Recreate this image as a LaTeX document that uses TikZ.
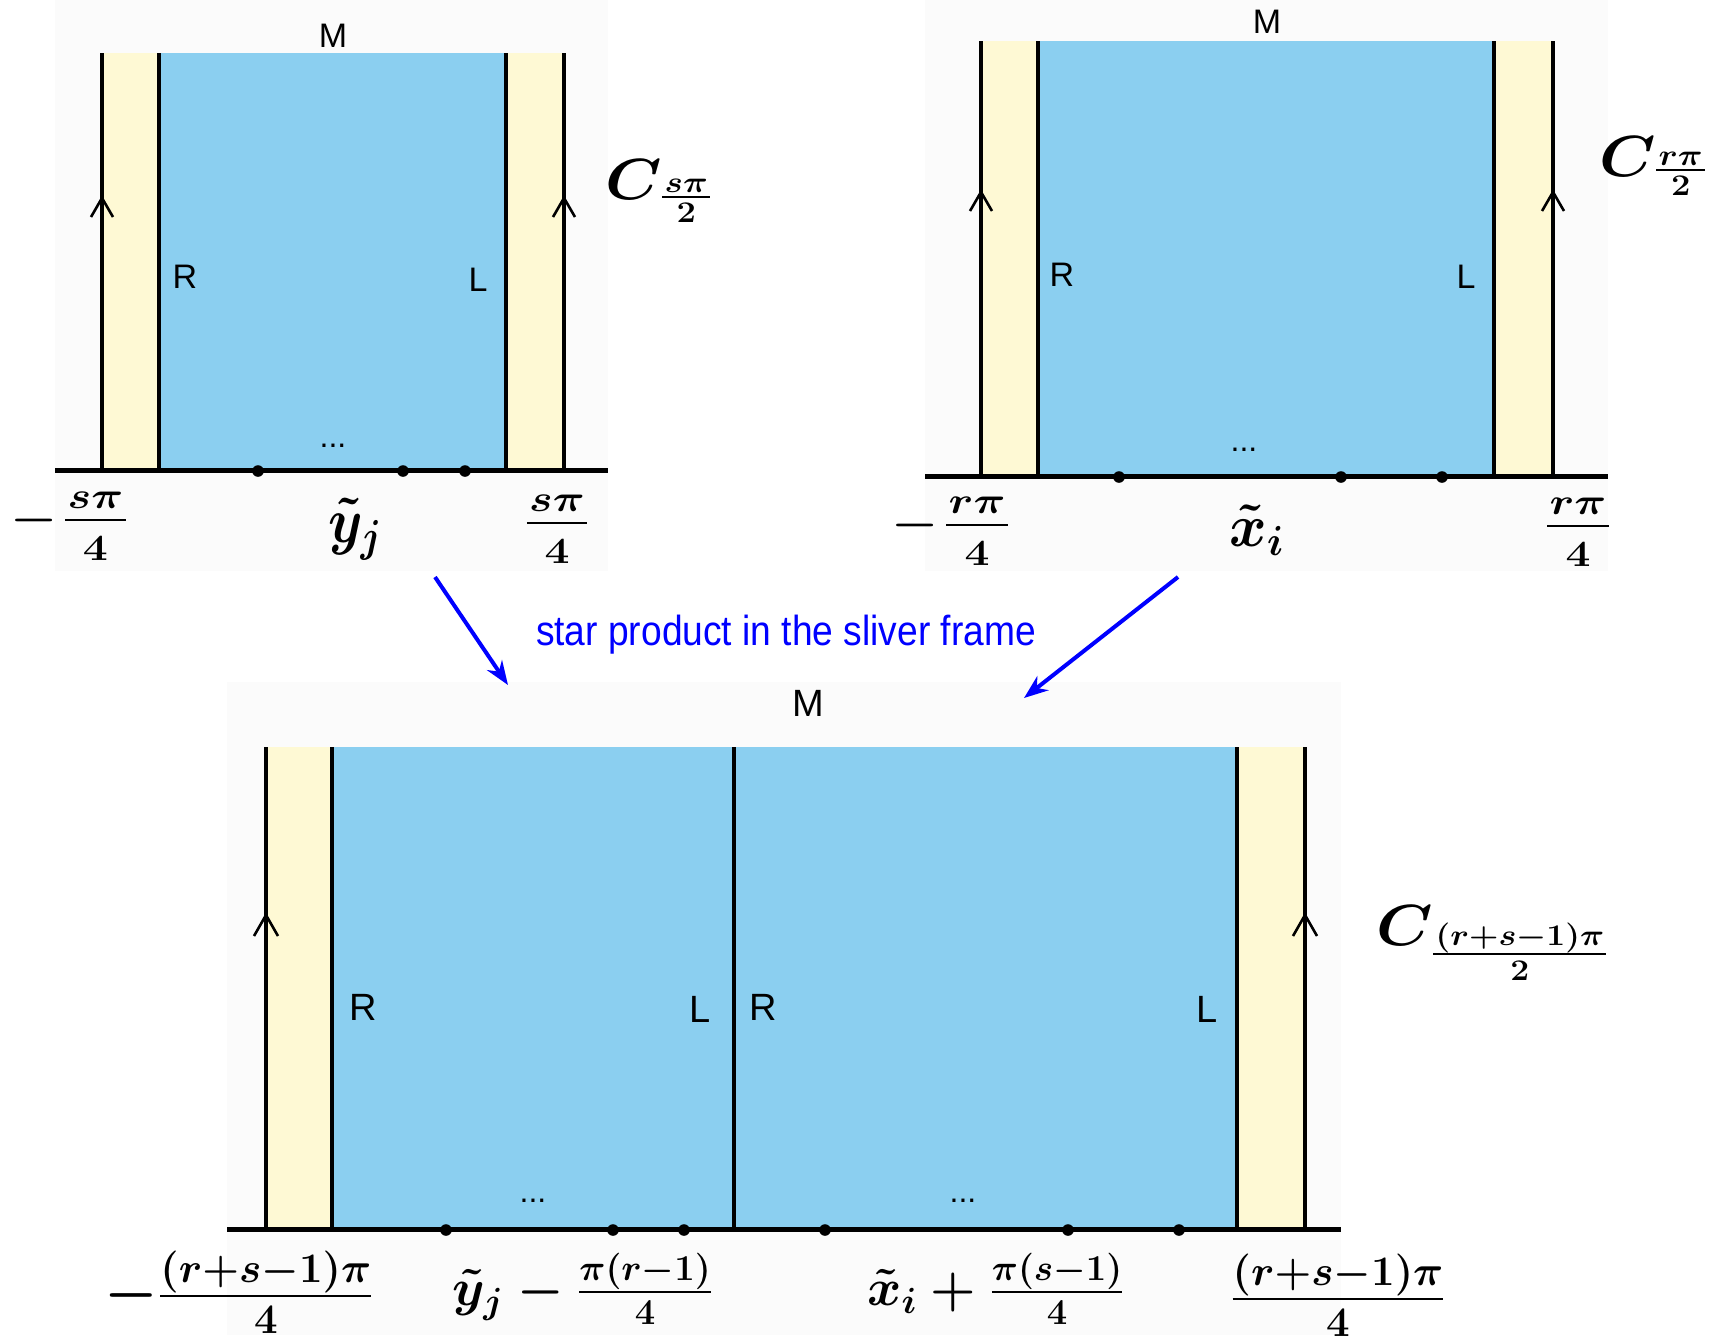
\RequirePackage{fix-cm}
\documentclass[tikz,border=0pt]{standalone}
\usepackage{amsmath}
\usepackage[no-math]{fontspec}
\usepackage{graphicx}
\usetikzlibrary{arrows.meta}
\newfontfamily\labsf{Liberation Sans}
\definecolor{stripblue}{RGB}{139,207,240}
\definecolor{stripcream}{RGB}{254,249,212}
\definecolor{panelgray}{RGB}{251,251,251}
\newcommand{\bmath}[2]{{\fontsize{#1}{#1}\selectfont\boldmath$#2$}}
% hand-set fraction: size, numerator, denominator,
% numerator baseline above bar, denominator baseline below bar, bar centre above baseline
\newdimen\ffw \newdimen\ffr
\newsavebox\ffnum \newsavebox\ffden
\newcommand{\ffrac}[6]{%
 \begingroup\fontsize{#1}{#1}\selectfont\boldmath
 \sbox\ffnum{$#2$}\sbox\ffden{$#3$}%
 \ffw=\wd\ffnum \ifdim\wd\ffden>\ffw \ffw=\wd\ffden\fi
 \advance\ffw by 2pt
 \ffr=#6\relax \advance\ffr by -#5\relax \advance\ffr by -0.5pt
 \raise\ffr\vbox{\hbox to\ffw{\hss\usebox\ffnum\hss}\kern\dimexpr#4-\dp\ffnum\relax\hrule height1pt\kern\dimexpr#5-\ht\ffden\relax\hbox to\ffw{\hss\usebox\ffden\hss}}%
 \endgroup}
\newcommand{\toplabm}[1]{\scalebox{1.2}[1]{\bmath{22}{-}\kern3.2pt\ffrac{18.5}{#1}{4}{5.5pt}{19.5pt}{5.5pt}}}
\newcommand{\toplabp}[1]{\scalebox{1.2}[1]{\ffrac{18.5}{#1}{4}{5.5pt}{19.5pt}{5.5pt}}}
% C label: #1 numerator, #2 num gap, #3 den gap, #4 bar height, #5 sub xscale
\newcommand{\clab}[5]{\scalebox{1.1}[1]{\bmath{29}{C}}\kern0.2pt\scalebox{#5}[1]{\ffrac{15}{#1}{2}{#2}{#3}{#4}}}
\tikzset{
  wall/.style={line width=2pt},
  midwall/.style={line width=1.6pt},
  axisline/.style={line width=2.5pt},
  chev/.style={line width=1.3pt},
  dotpt/.style={circle, fill=black, inner sep=0pt, minimum size=5.8pt},
  sflab/.style={font=\labsf\fontsize{17}{17}\selectfont, inner sep=0pt},
  sflabbig/.style={font=\labsf\fontsize{19}{19}\selectfont, inner sep=0pt},
  dotslab/.style={font=\labsf\fontsize{16}{16}\selectfont, inner sep=0pt},
  mlab/.style={inner sep=0pt},
  mlabbase/.style={inner sep=0pt, anchor=base},
  mlabwest/.style={inner sep=0pt, anchor=base west},
  bluearrow/.style={draw=blue, line width=2pt, -{Stealth[length=12pt,width=9pt]}},
  bluetext/.style={text=blue, inner sep=0pt, font=\labsf\fontsize{21}{21}\selectfont}
}
\begin{document}
\begin{tikzpicture}[x=0.5pt,y=-0.5pt]
\useasboundingbox (0,0) rectangle (1723,1335);
% faint panels
\fill[panelgray] (55,0) rectangle (608,571);
\fill[panelgray] (925,0) rectangle (1608,571);
\fill[panelgray] (227,682) rectangle (1341,1335);

% ---------------- top-left strip ----------------
\fill[stripcream] (102,53) rectangle (159,470);
\fill[stripblue] (159,53) rectangle (506,470);
\fill[stripcream] (506,53) rectangle (564,470);
\draw[wall] (102,53) -- (102,470);
\draw[wall] (159,53) -- (159,470);
\draw[wall] (506,53) -- (506,470);
\draw[wall] (564,53) -- (564,470);
\draw[axisline] (55,470) -- (608,470);
\draw[chev] (91,217) -- (102,198) -- (113,217);
\draw[chev] (553,217) -- (564,198) -- (575,217);
\node[dotpt] (tld1) at (258,471) {};
\node[dotpt] (tld2) at (403,471) {};
\node[dotpt] (tld3) at (465,471) {};
\node[dotslab] (tldots) at (333,446) {...};
\node[sflab] (tlM) at (333,36) {M};
\node[sflab] (tlR) at (185,277) {R};
\node[sflab] (tlL) at (478,280) {L};
\node[mlabwest] (tlC) at (605,199) {\clab{s\pi}{2pt}{12pt}{1pt}{1.15}};
\node[mlabwest] (tlm) at (10,531) {\toplabm{s\pi}};
\node[mlab] (tly) at (355,529) {\scalebox{0.86}[1]{\bmath{32}{\tilde{y}_j}}};
\node[mlabbase] (tlp) at (557,534) {\toplabp{s\pi}};

% ---------------- top-right strip ----------------
\fill[stripcream] (981,41) rectangle (1038,476);
\fill[stripblue] (1038,41) rectangle (1494,476);
\fill[stripcream] (1494,41) rectangle (1553,476);
\draw[wall] (981,41) -- (981,476);
\draw[wall] (1038,41) -- (1038,476);
\draw[wall] (1494,41) -- (1494,476);
\draw[wall] (1553,41) -- (1553,476);
\draw[axisline] (925,476) -- (1608,476);
\draw[chev] (970,211) -- (981,192) -- (992,211);
\draw[chev] (1542,211) -- (1553,192) -- (1564,211);
\node[dotpt] (trd1) at (1119,477) {};
\node[dotpt] (trd2) at (1341,477) {};
\node[dotpt] (trd3) at (1442,477) {};
\node[dotslab] (trdots) at (1244,450) {...};
\node[sflab] (trM) at (1267,22) {M};
\node[sflab] (trR) at (1062,275) {R};
\node[sflab] (trL) at (1466,277) {L};
\node[mlabwest] (trC) at (1599,176) {\clab{r\pi}{2pt}{12pt}{3pt}{1.15}};
\node[mlabwest] (trm) at (891,536) {\toplabm{r\pi}};
\node[mlab] (trx) at (1257,530) {\scalebox{0.95}[1]{\bmath{30}{\tilde{x}_i}}};
\node[mlabbase] (trp) at (1578,537) {\toplabp{r\pi}};

% ---------------- arrows and caption ----------------
\coordinate (a1s) at (435,577);
\coordinate (a1e) at (508,685);
\coordinate (a2s) at (1178,577);
\coordinate (a2e) at (1024,698);
\draw[bluearrow] (a1s) -- (a1e);
\draw[bluearrow] (a2s) -- (a2e);
\node[bluetext] (caption) at (786,635) {\scalebox{0.885}[1]{star product in the sliver frame}};

% ---------------- bottom strip ----------------
\fill[stripcream] (266,747) rectangle (332,1229);
\fill[stripblue] (332,747) rectangle (1237,1229);
\fill[stripcream] (1237,747) rectangle (1305,1229);
\draw[wall] (266,747) -- (266,1229);
\draw[wall] (332,747) -- (332,1229);
\draw[midwall] (734,747) -- (734,1229);
\draw[wall] (1237,747) -- (1237,1229);
\draw[wall] (1305,747) -- (1305,1229);
\draw[axisline] (227,1229) -- (1341,1229);
\draw[chev] (254,936) -- (266,915) -- (278,936);
\draw[chev] (1293,936) -- (1305,915) -- (1317,936);
\node[dotpt] (bd1) at (446,1230) {};
\node[dotpt] (bd2) at (613,1230) {};
\node[dotpt] (bd3) at (684,1230) {};
\node[dotpt] (bd4) at (825,1230) {};
\node[dotpt] (bd5) at (1068,1230) {};
\node[dotpt] (bd6) at (1179,1230) {};
\node[dotslab] (bdotsl) at (533,1201) {...};
\node[dotslab] (bdotsr) at (963,1201) {...};
\node[sflabbig] (bM) at (808,703) {M};
\node[sflabbig] (bR1) at (363,1007) {R};
\node[sflabbig] (bL1) at (700,1009) {L};
\node[sflabbig] (bR2) at (763,1007) {R};
\node[sflabbig] (bL2) at (1207,1009) {L};
\node[mlabwest] (bC) at (1376,945) {\clab{(r{+}s{-}1)\pi}{4pt}{12.5pt}{-4.5pt}{1.12}};
\node[mlab] (bm) at (239,1292) {\bmath{30}{-\frac{(r+s-1)\pi}{4}}};
\node[mlab] (by) at (583,1289) {\bmath{26}{\tilde{y}_j-\frac{\pi(r-1)}{4}}};
\node[mlab] (bx) at (996,1289) {\bmath{26}{\tilde{x}_i+\frac{\pi(s-1)}{4}}};
\node[mlab] (bp) at (1338,1295) {\bmath{30}{\frac{(r+s-1)\pi}{4}}};
\end{tikzpicture}
\end{document}
